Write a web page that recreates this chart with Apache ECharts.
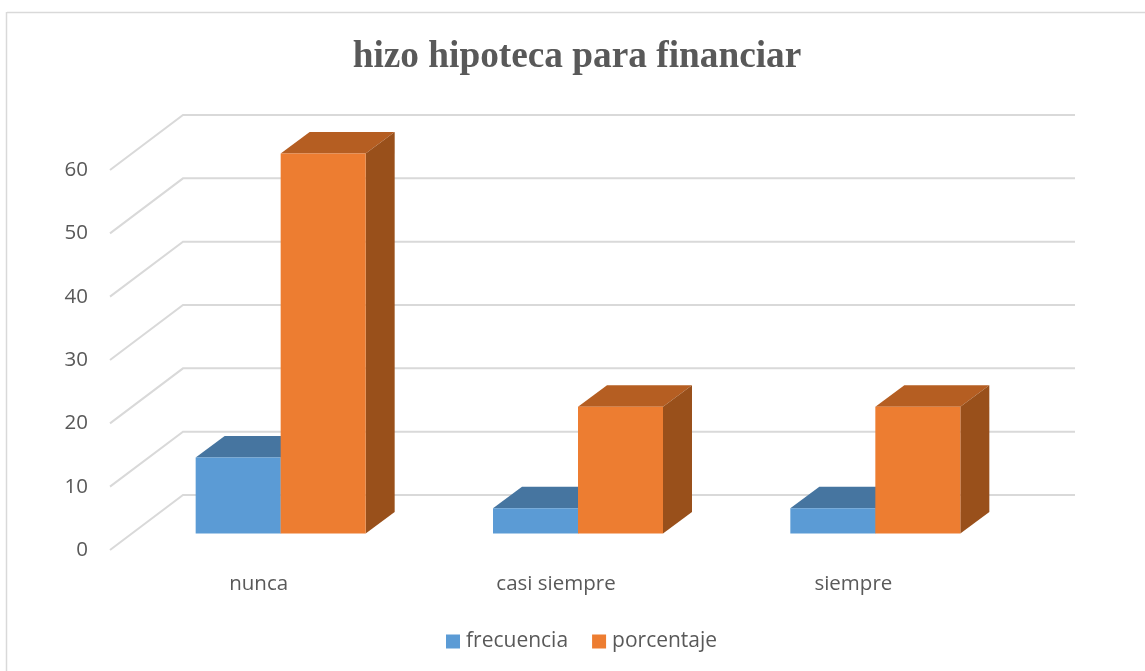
<!DOCTYPE html>
<html>
<head>
<meta charset="utf-8">
<script src="https://cdn.jsdelivr.net/npm/echarts@6/dist/echarts.min.js"></script>
<style>
  html, body { margin: 0; padding: 0; background: #fff; }
  #chart { width: 1145px; height: 671px; }
</style>
</head>
<body>
<div id="chart"></div>
<script>
  var categories = ['nunca', 'casi siempre', 'siempre'];
  var frecuencia = [12, 4, 4];
  var porcentaje = [60, 20, 20];
  var yTicks = [0, 10, 20, 30, 40, 50, 60];

  // 3d look: depth of the walls and of the bars, in pixels
  var wallDepth = [73, -55];
  var barDepth = [29, -21.5];
  var barLift = [22, -16.5];
  var barWidth = 85;

  var chart = echarts.init(document.getElementById('chart'));

  function wallItem(params, api) {
    var cs = params.coordSys;
    var p = api.coord([0, api.value(1)]);
    return {
      type: 'polyline',
      silent: true,
      shape: {
        points: [
          [cs.x, p[1]],
          [cs.x + wallDepth[0], p[1] + wallDepth[1]],
          [cs.x + cs.width + wallDepth[0], p[1] + wallDepth[1]]
        ]
      },
      style: { fill: null, stroke: '#d9d9d9', lineWidth: 2 }
    };
  }

  // side: -1 bar left of the category centre, 0 bar right of it
  function barItem(side, colors) {
    return function (params, api) {
      var top = api.coord([api.value(0), api.value(1)]);
      var base = api.coord([api.value(0), 0]);
      var x0 = top[0] + barLift[0] + side * barWidth;
      var x1 = x0 + barWidth;
      var y0 = top[1] + barLift[1];
      var y1 = base[1] + barLift[1];
      var dx = barDepth[0];
      var dy = barDepth[1];
      return {
        type: 'group',
        silent: true,
        children: [
          { type: 'polygon', shape: { points: [[x0, y0], [x0 + dx, y0 + dy], [x1 + dx, y0 + dy], [x1, y0]] }, style: { fill: colors[1] } },
          { type: 'polygon', shape: { points: [[x1, y0], [x1 + dx, y0 + dy], [x1 + dx, y1 + dy], [x1, y1]] }, style: { fill: colors[2] } },
          { type: 'rect', shape: { x: x0, y: y0, width: barWidth, height: y1 - y0 }, style: { fill: colors[0] } }
        ]
      };
    };
  }

  function pairs(values) {
    return values.map(function (v, i) { return [i, v]; });
  }

  chart.setOption({
    animation: false,
    title: {
      text: 'hizo hipoteca para financiar',
      left: 572,
      top: 34,
      textAlign: 'center',
      textStyle: { fontFamily: 'Liberation Serif', fontWeight: 'bold', fontSize: 37.3, color: '#595959' }
    },
    legend: {
      left: 441,
      top: 626,
      icon: 'rect',
      itemWidth: 14,
      itemHeight: 14,
      itemGap: 24,
      data: ['frecuencia', 'porcentaje'],
      textStyle: { fontFamily: 'Open Sans', fontSize: 21, color: '#595959', padding: [0, 0, 0, 1] }
    },
    grid: { left: 110, right: 143, top: 170, bottom: 121 },
    xAxis: {
      type: 'category',
      data: categories,
      axisLine: { show: false },
      axisTick: { show: false },
      axisLabel: { margin: 24, fontFamily: 'Open Sans', fontSize: 20.5, color: '#595959' }
    },
    yAxis: {
      type: 'value',
      min: 0,
      max: 60,
      interval: 10,
      axisLine: { show: false },
      axisTick: { show: false },
      splitLine: { show: false },
      axisLabel: { margin: 22, padding: [5, 0, 0, 0], fontFamily: 'Open Sans', fontSize: 20.5, color: '#595959' }
    },
    graphic: [
      { type: 'line', silent: true, shape: { x1: 7, y1: 12.5, x2: 1145, y2: 12.5 }, style: { stroke: '#d9d9d9', lineWidth: 1.5 } },
      { type: 'line', silent: true, shape: { x1: 6.5, y1: 12, x2: 6.5, y2: 671 }, style: { stroke: '#d9d9d9', lineWidth: 1.5 } }
    ],
    series: [
      {
        name: 'paredes',
        type: 'custom',
        renderItem: wallItem,
        encode: { x: 0, y: 1 },
        data: yTicks.map(function (v) { return [0, v]; }),
        z: 1
      },
      {
        name: 'frecuencia',
        type: 'custom',
        renderItem: barItem(-1, ['#5b9bd5', '#4675a0', '#3f6a92']),
        itemStyle: { color: '#5b9bd5' },
        encode: { x: 0, y: 1 },
        data: pairs(frecuencia),
        z: 2
      },
      {
        name: 'porcentaje',
        type: 'custom',
        renderItem: barItem(0, ['#ed7d31', '#b55e22', '#99501b']),
        itemStyle: { color: '#ed7d31' },
        encode: { x: 0, y: 1 },
        data: pairs(porcentaje),
        z: 3
      }
    ]
  });
</script>
</body>
</html>
